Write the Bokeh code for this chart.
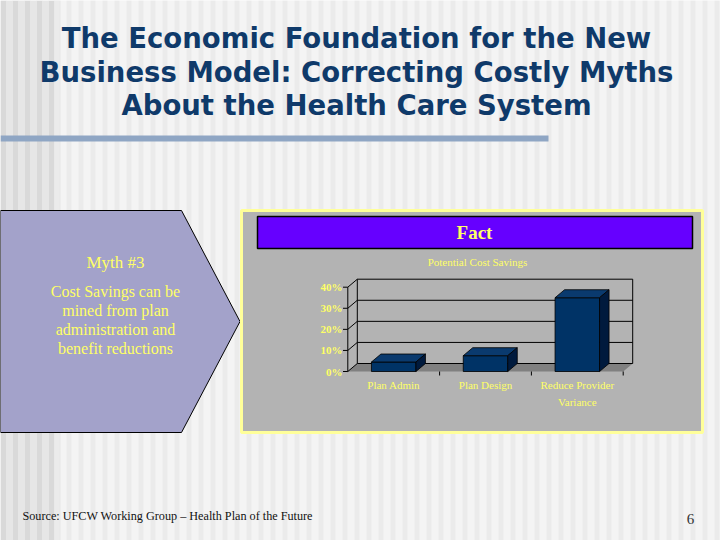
import numpy as np
from bokeh.plotting import figure
from bokeh.models import Range1d
from bokeh.core.properties import value
from bokeh.embed import file_html
from bokeh.resources import INLINE

# ---------------- data ----------------
categories = ["Plan Admin", "Plan Design", "Reduce Provider\nVariance"]
savings_pct = [4.5, 7.5, 35.0]
y_ticks = [0, 10, 20, 30, 40]
y_tick_labels = ["0%", "10%", "20%", "30%", "40%"]
chart_title = "Potential Cost Savings"
slide_title = ["The Economic Foundation for the New",
               "Business Model: Correcting Costly Myths",
               "About the Health Care System"]
myth_head = "Myth #3"
myth_lines = ["Cost Savings can be", "mined from plan",
              "administration and", "benefit reductions"]
fact_head = "Fact"
source_text = "Source:  UFCW Working Group \u2013 Health Plan of the Future"
page_no = "6"

# ---------------- geometry (slide pixels -> data) ----------------
W, H = 720, 540
OX, OY = 0, 0
AX0, AX3 = 347.3, 622.7      # front floor edge: category 0 .. 3
AY0, AY40 = 371.0, 286.7     # front axis: 0% .. 40%
sxp = (AX3 - AX0) / 3.0
syp = (AY0 - AY40) / 40.0
x_start = -(AX0 - OX) / sxp
x_end = x_start + W / sxp
y_start = -(OY + H - AY0) / syp
y_end = y_start + H / syp


def X(px):
    return x_start + (px - OX) / sxp


def Y(py):
    return y_start + (OY + H - py) / syp


DX = 9.5 / sxp
DY = 8.0 / syp

p = figure(width=W, height=H, x_range=Range1d(x_start, x_end),
           y_range=Range1d(y_start, y_end), x_axis_type=None, y_axis_type=None,
           toolbar_location=None, output_backend="svg", min_border=0)
p.grid.visible = False
p.outline_line_color = None
p.background_fill_color = "#f4f4f4"
p.border_fill_color = "#f4f4f4"

# background stripes
ls = np.arange(0, 54, 12)
p.quad(left=[X(v) for v in ls], right=[X(v + 6) for v in ls],
       bottom=Y(540), top=Y(0), fill_color="#d9d9d9", line_color=None)
p.quad(left=[X(v + 6) for v in ls], right=[X(v + 12) for v in ls],
       bottom=Y(540), top=Y(0), fill_color="#e6e6e6", line_color=None)
rs = np.arange(54, 720, 12)
p.quad(left=[X(v) for v in rs], right=[X(v + 5) for v in rs],
       bottom=Y(540), top=Y(0), fill_color="#ebebeb", line_color=None)

# title rule
p.quad(left=X(0), right=X(548), bottom=Y(141), top=Y(135),
       fill_color="#8fa6c4", line_color=None)

# title
for k, line in enumerate(slide_title):
    p.text(x=X(356), y=Y([37, 71, 104][k]), text=[line],
           text_font=value("DejaVu Sans"), text_font_style="bold",
           text_font_size="27.5px", text_color="#0f3a6a",
           text_align="center", text_baseline="middle")

# myth arrow
p.patch([X(0), X(181), X(239.5), X(181), X(0)],
        [Y(210), Y(210), Y(321), Y(432), Y(432)],
        fill_color="#a3a2ca", line_color="black", line_width=1)
p.text(x=X(115), y=Y(262), text=[myth_head], text_font=value("Liberation Serif"),
       text_font_size="17px", text_color="#ffff66",
       text_align="center", text_baseline="middle")
for k, line in enumerate(myth_lines):
    p.text(x=X(115), y=Y(291 + 19 * k), text=[line],
           text_font=value("Liberation Serif"), text_font_size="16px",
           text_color="#ffff66", text_align="center", text_baseline="middle")

# fact box
p.quad(left=X(241), right=X(702), top=Y(210), bottom=Y(432),
       fill_color="#b3b3b3", line_color="#ffff99", line_width=3)
p.quad(left=X(257), right=X(692), top=Y(216), bottom=Y(248),
       fill_color="#6600ff", line_color="black", line_width=1.5)
p.text(x=X(474), y=Y(232), text=[fact_head], text_font=value("Liberation Serif"),
       text_font_style="bold", text_font_size="19px", text_color="#ffff66",
       text_align="center", text_baseline="middle")
p.text(x=X(477), y=Y(261), text=[chart_title], text_font=value("Liberation Serif"),
       text_font_size="11px", text_color="#ffff66",
       text_align="center", text_baseline="middle")

# ---------------- 3D chart ----------------
n = len(categories)
ymax = y_ticks[-1]
# floor
p.patch([0, n, n + DX, DX], [0, 0, DY, DY], fill_color="#808080", line_color=None)
# walls gridlines
gx = [[0, DX, n + DX] for t in y_ticks]
gy = [[t, t + DY, t + DY] for t in y_ticks]
gx += [[0, 0], [DX, DX], [n + DX, n + DX]]
gy += [[0, ymax], [DY, ymax + DY], [DY, ymax + DY]]
p.multi_line(gx, gy, line_color="black", line_width=1)
# axis ticks
p.segment(x0=[X(342.5)] * len(y_ticks), y0=y_ticks, x1=[0] * len(y_ticks),
          y1=y_ticks, line_color="black", line_width=1)
p.segment(x0=list(range(1, n + 1)), y0=[0] * n, x1=list(range(1, n + 1)),
          y1=[Y(375)] * n, line_color="black", line_width=1)
p.text(x=[X(342)] * len(y_ticks), y=y_ticks, text=y_tick_labels,
       text_font=value("Liberation Serif"), text_font_style="bold",
       text_font_size="11px", text_color="#ffff66",
       text_align="right", text_baseline="middle")

# bars
bw = 44.5 / sxp
lefts = [i + 0.5 - bw / 2 for i in range(n)]
rights = [i + 0.5 + bw / 2 for i in range(n)]
p.quad(left=lefts, right=rights, bottom=0, top=savings_pct,
       fill_color="#003366", line_color="black", line_width=0.8)
p.patches([[l, r, r + DX, l + DX] for l, r in zip(lefts, rights)],
          [[v, v, v + DY, v + DY] for v in savings_pct],
          fill_color="#0a3a6e", line_color="black", line_width=0.8)
p.patches([[r, r + DX, r + DX, r] for r in rights],
          [[0, DY, v + DY, v] for v in savings_pct],
          fill_color="#001a3d", line_color="black", line_width=0.8)

# category labels
p.text(x=[i + 0.5 for i in range(n)], y=[Y(378)] * n, text=categories,
       text_font=value("Liberation Serif"), text_font_size="11px",
       text_color="#ffff66", text_align="center", text_baseline="top",
       text_line_height=1.45)

# footer
p.text(x=X(22), y=Y(515), text=[source_text], text_font=value("Liberation Serif"),
       text_font_size="12.2px", text_color="#111111",
       text_align="left", text_baseline="middle")
p.text(x=X(690), y=Y(518), text=[page_no], text_font=value("Liberation Serif"),
       text_font_size="15px", text_color="#333333",
       text_align="center", text_baseline="middle")

open("out.html", "w").write(file_html(p, INLINE))
